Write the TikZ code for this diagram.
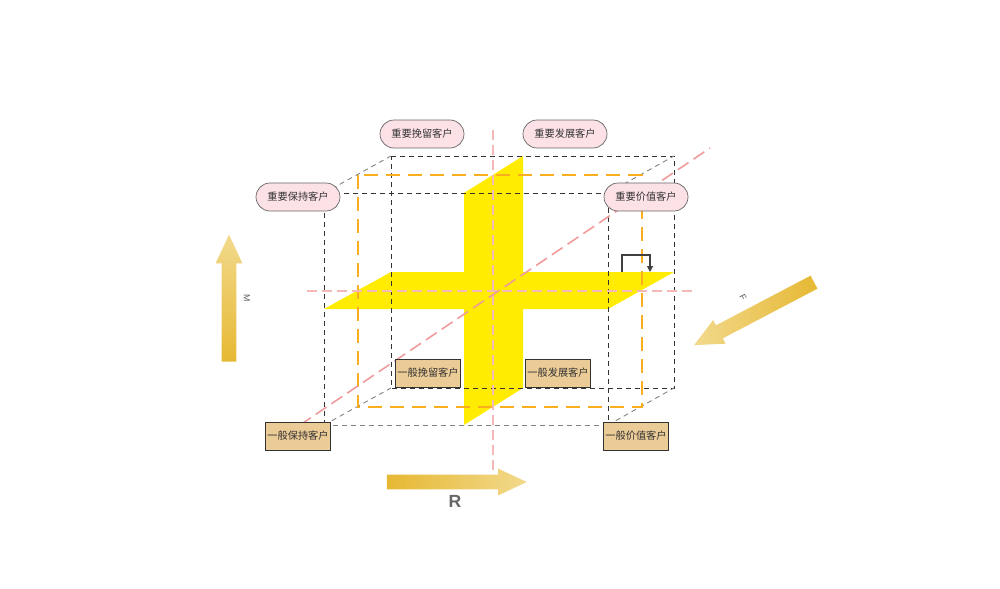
\documentclass[tikz,border=0pt]{standalone}
\usepackage{fontspec}
\setsansfont{Liberation Sans}
\newfontfamily\cjk{Noto Sans CJK SC}
\usepackage{tikz}
\usetikzlibrary{arrows.meta,positioning,shapes.arrows}

\definecolor{pillpink}{HTML}{FCE1E6}
\definecolor{boxtan}{HTML}{EBCB96}
\definecolor{planeyel}{HTML}{FFEC00}
\definecolor{guideorg}{HTML}{F8AE1E}
\definecolor{guidepink}{HTML}{F09A9A}
\definecolor{golddark}{HTML}{E6B833}
\definecolor{goldlight}{HTML}{F2D98C}

\begin{document}
\begin{tikzpicture}[
  x=0.02cm, y=-0.02cm,
  edge/.style={draw=black!80, dash pattern=on 0.1cm off 0.08cm, line width=0.5pt},
  edgelight/.style={draw=black!50, dash pattern=on 0.1cm off 0.08cm, line width=0.5pt},
  midframe/.style={draw=guideorg, dash pattern=on 0.28cm off 0.16cm, line width=1.1pt},
  axisguide/.style={draw=guidepink, dash pattern=on 0.26cm off 0.12cm, line width=0.9pt},
  axisthin/.style={draw=guidepink!70, dash pattern=on 0.2cm off 0.1cm, line width=0.6pt},
  plane/.style={fill=planeyel, draw=none},
  keytag/.style={draw=black!60, fill=pillpink, rounded corners=0.28cm, minimum width=1.68cm,
    minimum height=0.56cm, inner sep=1pt, text=black!80, font=\cjk\fontsize{5.8}{7}\selectfont},
  plaintag/.style={draw=black!80, fill=boxtan, minimum width=1.3cm, minimum height=0.56cm,
    inner sep=1pt, text=black!80, font=\cjk\fontsize{5.8}{7}\selectfont},
  goldarrow/.style={single arrow, draw=none, left color=golddark, right color=goldlight,
    inner xsep=0pt, inner ysep=0.14cm, single arrow head extend=0.12cm,
    single arrow tip angle=50},
  axlbl/.style={text=black!65, font=\sffamily\fontsize{5}{6}\selectfont}
]
  \useasboundingbox (0,0) rectangle (1000,588);

  % --- CUBO ---
  \coordinate (fa) at (324,193); \coordinate (fb) at (608,193);
  \coordinate (fc) at (608,425); \coordinate (fd) at (324,425);
  \coordinate (ba) at (391,156); \coordinate (bb) at (674,156);
  \coordinate (bc) at (674,388); \coordinate (bd) at (391,388);

  % Planos amarillos
  \fill[plane] (464,193) -- (523,156) -- (523,388) -- (464,425) -- cycle;
  \fill[plane] (324,309) -- (391,272) -- (674,272) -- (608,309) -- cycle;

  % Cara trasera y cara delantera
  \draw[edge] (ba) -- (bb) -- (bc) -- (bd) -- cycle;
  \draw[edge] (fd) -- (fa) -- (fb) -- (fc);
  \draw[edgelight] (fd) -- (fc);
  \draw[edgelight] (fa) -- (ba) (fb) -- (bb) (fc) -- (bc) (fd) -- (bd);

  % Marco intermedio
  \draw[midframe] (358,175) rectangle (642,407);

  % Ejes guia
  \draw[axisthin] (493,130) -- (493,470);
  \draw[axisthin] (307,291) -- (693,291);
  \draw[axisguide] (300,425) -- (710,148);

  % Pequeno retorno
  \coordinate (hk1) at (622,272); \coordinate (hk2) at (650,272);
  \draw[black!75, line width=0.6pt, -{Triangle[length=1.2mm,width=1.2mm]}]
    (hk1) -- ++(0,-17) -| (hk2);

  % --- ETIQUETAS ---
  \node[keytag] (kwin) at (422,134) {重要挽留客户};
  \node[keytag] (kdev) at (565,134) {重要发展客户};
  \node[keytag] (kkeep) at (298,197) {重要保持客户};
  \node[keytag] (kval) at (646,197) {重要价值客户};

  \node[plaintag] (pwin) at (428,373) {一般挽留客户};
  \node[plaintag] (pdev) at (558,373) {一般发展客户};
  \node[plaintag] (pkeep) at (298,436) {一般保持客户};
  \node[plaintag] (pval) at (636,436) {一般价值客户};

  % --- FLECHAS R, F, M ---
  \node[goldarrow, minimum height=2.54cm, rotate=90,
    top color=goldlight, bottom color=golddark] (marrow) at (229,306) {};
  \node[axlbl, rotate=-90] (mlbl) at (247,298) {M};

  \node[goldarrow, minimum height=2.71cm, rotate=207.7,
    left color=goldlight, right color=golddark] (farrow) at (761,310) {};
  \node[axlbl, rotate=-62] (flbl) at (743,297) {F};

  \node[goldarrow, minimum height=2.8cm] (rarrow) at (449,482) {};
  \node[text=black!60, font=\sffamily\bfseries\fontsize{10}{12}\selectfont] (rlbl) at (455,501) {R};

\end{tikzpicture}
\end{document}
